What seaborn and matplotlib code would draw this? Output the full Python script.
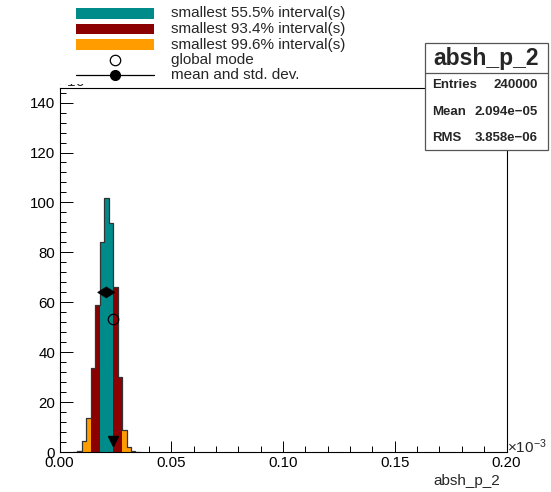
import matplotlib
matplotlib.use("Agg")
import matplotlib.pyplot as plt
from matplotlib.patches import Rectangle
from matplotlib.lines import Line2D
from matplotlib.ticker import MultipleLocator, FormatStrFormatter
import numpy as np
import pandas as pd
import seaborn as sns

# ---------------- data (x in units of 1e-3, y in units of 1e3) ----------------
bin_edges = [0.006, 0.008, 0.010, 0.012, 0.014, 0.016, 0.018, 0.020,
             0.022, 0.024, 0.026, 0.028, 0.030, 0.032, 0.034, 0.036]
bin_values = [0.1, 0.7, 4.7, 13.6, 33.6, 58.9, 84.0, 101.6,
              91.9, 66.0, 30.3, 9.0, 2.0, 0.6, 0.15]
bin_region = ["out", "out", "99.6", "99.6", "93.4", "93.4", "55.5", "55.5",
              "55.5", "93.4", "93.4", "99.6", "99.6", "out", "out"]

legend_labels = ["smallest 55.5% interval(s)", "smallest 93.4% interval(s)",
                 "smallest 99.6% interval(s)", "global mode", "mean and std. dev."]
region_colors = {"55.5": "#008b8b", "93.4": "#8b0000", "99.6": "#ff9c00", "out": "#ffffff"}

mean_x = 0.02094
std_x = 0.003858
mean_y = 64.0
mode_x = 0.0238
mode_y = 53.3
mode_tri_y = 4.6

stats_title = "absh_p_2"
stats_names = ["Entries", "Mean", "RMS"]
stats_values = ["240000", "2.094e\u221205", "3.858e\u221206"]

x_ticks = [0.00, 0.05, 0.10, 0.15, 0.20]
y_ticks = [0, 20, 40, 60, 80, 100, 120, 140]

# ---------------- style ----------------
sns.set_style("ticks")
plt.rcParams["font.family"] = ["Liberation Sans", "DejaVu Sans"]
plt.rcParams["mathtext.fontset"] = "custom"
plt.rcParams["mathtext.rm"] = "Liberation Sans"
plt.rcParams["mathtext.it"] = "Liberation Sans:italic"

W, H = 551, 492
fig = plt.figure(figsize=(W / 100, H / 100), dpi=100)
fig.patch.set_facecolor("white")


def fx(px):
    return px / W


def fy(py):
    return 1 - py / H


ax_l, ax_r, ax_t, ax_b = 59.5, 506.5, 88.3, 452.3
ax = fig.add_axes([fx(ax_l), fy(ax_b), fx(ax_r - ax_l), (ax_b - ax_t) / H])

centers = [(bin_edges[i] + bin_edges[i + 1]) / 2 for i in range(len(bin_values))]
df = pd.DataFrame({"center": centers, "value": bin_values, "region": bin_region})

sns.histplot(data=df, x="center", weights="value", hue="region",
             hue_order=["out", "99.6", "93.4", "55.5"], palette=region_colors,
             bins=bin_edges, multiple="layer", alpha=1, linewidth=0,
             legend=False, ax=ax, zorder=2)
sns.histplot(data=df, x="center", weights="value", bins=bin_edges,
             element="step", fill=False, color="#333333", linewidth=0.9,
             ax=ax, zorder=3)

# mean +- std diamond
dh = 2.2
ax.fill([mean_x - std_x, mean_x, mean_x + std_x, mean_x],
        [mean_y, mean_y + dh, mean_y, mean_y - dh], color="black", zorder=5, lw=0.5)
# global mode
ax.plot([mode_x], [mode_y], marker="o", markersize=7.5, markerfacecolor="none",
        markeredgecolor="black", markeredgewidth=0.9, zorder=5)
ax.plot([mode_x], [mode_tri_y], marker="v", markersize=7.0, color="black", zorder=5,
        linestyle="none")

ax.set_xlim(0, 0.2)
ax.set_ylim(0, 145.7)
ax.set_xlabel("")
ax.set_ylabel("")
ax.set_xticks(x_ticks)
ax.set_yticks(y_ticks)
ax.xaxis.set_major_formatter(FormatStrFormatter("%.2f"))
ax.xaxis.set_minor_locator(MultipleLocator(0.01))
ax.yaxis.set_minor_locator(MultipleLocator(4))
for s in ax.spines.values():
    s.set_visible(True)
    s.set_color("black")
    s.set_linewidth(0.8)
ax.tick_params(axis="both", which="both", direction="in", top=False, right=False,
               width=0.7, colors="black", labelsize=10.8)
ax.tick_params(axis="x", which="major", length=8, pad=3)
ax.tick_params(axis="x", which="minor", length=4)
ax.tick_params(axis="y", which="major", length=9, pad=3)
ax.tick_params(axis="y", which="minor", length=4.5)
ax.set_facecolor("white")

# axis label and multipliers
fig.text(fx(500), fy(481), "absh_p_2", ha="right", va="center", fontsize=11)
fig.text(fx(507), fy(453), r"$\times$10$^{-3}$", ha="left", va="baseline", fontsize=11)
fig.text(fx(58), fy(86.5), r"$\times$10$^{3}$", ha="left", va="baseline", fontsize=11,
         zorder=4)

# legend (ROOT style, white box covering top)
fig.patches.append(Rectangle((fx(40), fy(83.5)), fx(385), 83.5 / H,
                             transform=fig.transFigure, facecolor="white",
                             edgecolor="none", zorder=5))
rows_y = [13.5, 29.0, 44.5, 60.0, 75.0]
patch_cols = [region_colors["55.5"], region_colors["93.4"], region_colors["99.6"]]
for i in range(3):
    fig.patches.append(Rectangle((fx(76), fy(rows_y[i] + 5.3)), fx(78), 10.6 / H,
                                 transform=fig.transFigure, facecolor=patch_cols[i],
                                 edgecolor="none", zorder=6))
fig.add_artist(Line2D([fx(115)], [fy(rows_y[3])], marker="o", markersize=7.5,
                      markerfacecolor="white", markeredgecolor="black",
                      markeredgewidth=0.9, transform=fig.transFigure, zorder=6))
fig.add_artist(Line2D([fx(76), fx(154)], [fy(rows_y[4]), fy(rows_y[4])], color="black",
                      lw=0.9, transform=fig.transFigure, zorder=6))
fig.add_artist(Line2D([fx(115)], [fy(rows_y[4])], marker="o", markersize=7,
                      color="black", transform=fig.transFigure, zorder=6))
for lab, yy in zip(legend_labels, rows_y):
    fig.text(fx(171), fy(yy), lab, ha="left", va="center", fontsize=11, zorder=7)

# stats box
bx0, bx1, by0, by1 = 424.5, 547.5, 43.3, 150.0
fig.patches.append(Rectangle((fx(bx0), fy(by1)), fx(bx1 - bx0), (by1 - by0) / H,
                             transform=fig.transFigure, facecolor="white",
                             edgecolor="#555555", lw=0.9, zorder=8))
fig.add_artist(Line2D([fx(bx0), fx(bx1)], [fy(73), fy(73)], color="#555555", lw=0.9,
                      transform=fig.transFigure, zorder=9))
fig.text(fx((bx0 + bx1) / 2), fy(58.5), stats_title, ha="center", va="center",
         fontsize=16.5, fontweight="bold", zorder=10)
for name, val, yy in zip(stats_names, stats_values, [85.5, 111.7, 137.7]):
    fig.text(fx(432), fy(yy), name, ha="left", va="center", fontsize=9.5,
             fontweight="bold", zorder=10)
    fig.text(fx(538), fy(yy), val, ha="right", va="center", fontsize=9.5,
             fontweight="bold", zorder=10)

fig.savefig("out.png", dpi=100, facecolor="white")
